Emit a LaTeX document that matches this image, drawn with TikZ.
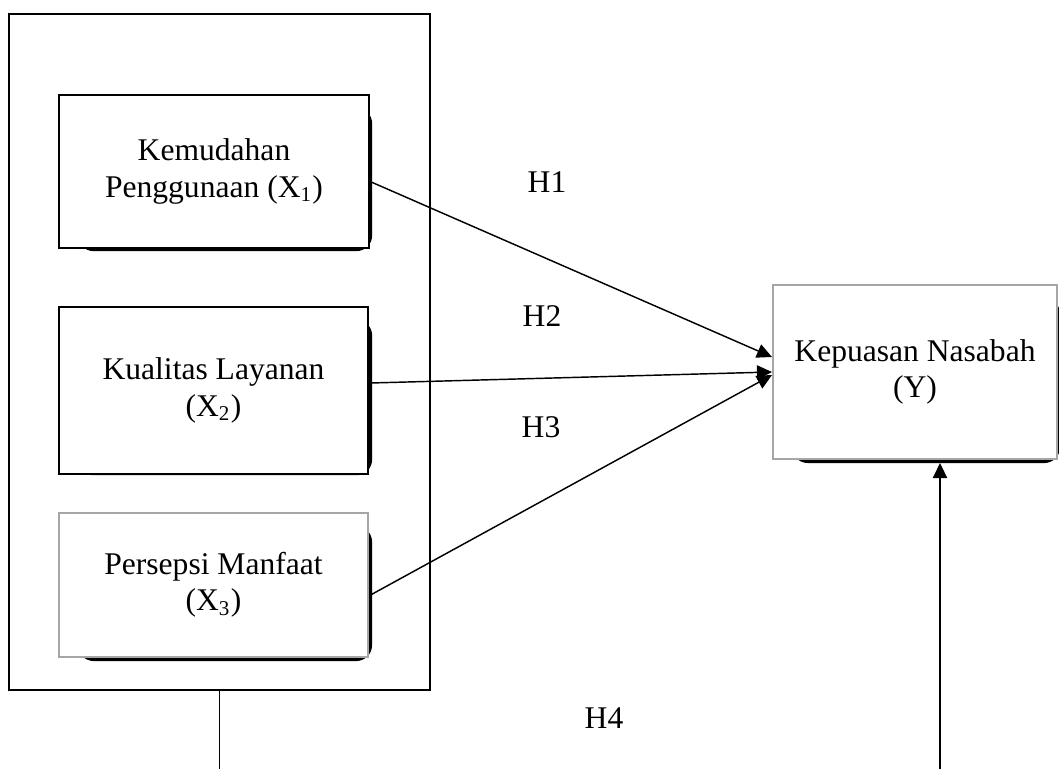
\documentclass[tikz,border=0pt]{standalone}
\usepackage{fontspec}
\setmainfont{Liberation Serif}
\usetikzlibrary{arrows.meta,backgrounds}

\tikzset{
	kotak/.style={draw, line width=0.9pt, fill=white, inner sep=0pt, align=center, font=\fontsize{12}{13.8}\selectfont},
	kotakabu/.style={kotak, draw=black!35, line width=0.8pt},
	bingkai/.style={draw, line width=1.1pt, inner sep=0pt, minimum width=160pt, minimum height=256.9pt},
	panah/.style={-{Triangle[length=5.7pt,width=5.4pt]}, line width=0.55pt},
	hipotesis/.style={inner sep=0pt, font=\fontsize{12}{13.8}\selectfont}
}

\begin{document}
\begin{tikzpicture}[x=0.38pt, y=-0.38pt]
		\useasboundingbox (0, 0) rectangle (1059, 769);
		\node[bingkai] (grup) at (219.5, 352) {};
		\node[kotak, minimum width=117.8pt, minimum height=58.1pt] (kemudahan) at (214, 171.5) {Kemudahan\\Penggunaan (X\textsubscript{1})};
		\node[kotak, minimum width=117.4pt, minimum height=63.5pt] (kualitas) at (213.5, 390.5) {Kualitas Layanan\\(X\textsubscript{2})};
		\node[kotakabu, minimum width=117.4pt, minimum height=54.7pt] (persepsi) at (213.5, 585) {Persepsi Manfaat\\(X\textsubscript{3})};
		\node[kotakabu, minimum width=107.9pt, minimum height=66.1pt] (kepuasan) at (915, 372) {Kepuasan Nasabah\\(Y)};
		% bayangan kotak
		\begin{pgfonlayer}{background}
			\foreach \n/\dx/\dy in {kemudahan/2/2, kualitas/3/0, persepsi/3/3, kepuasan/2/3}
				\fill[rounded corners=6pt] ([shift={(20, 14)}]\n.north west) rectangle ([shift={(\dx, \dy)}]\n.south east);
		\end{pgfonlayer}
		\node[hipotesis] (h1) at (547, 182) {H1};
		\node[hipotesis] (h2) at (542, 316.5) {H2};
		\node[hipotesis] (h3) at (541, 427.5) {H3};
		\node[hipotesis] (h4) at (604, 718) {H4};
		\draw[panah] ([shift={(1, 10.5)}]kemudahan.east) -- ([shift={(0, -15)}]kepuasan.west);
		\draw[panah] ([shift={(1.5, -7.5)}]kualitas.east) -- ([shift={(0, 0)}]kepuasan.west);
		\draw[panah] ([shift={(1.5, 10)}]persepsi.east) -- ([shift={(0, 3)}]kepuasan.west);
		\coordinate (bawahkiri) at (219.5, 769);
		\coordinate (bawahkanan) at (940, 769);
		\draw[line width=0.55pt] (grup.south) -- (bawahkiri);
		\draw[panah] (bawahkanan) -- ([shift={(25, 3)}]kepuasan.south);
	\end{tikzpicture}
\end{document}
